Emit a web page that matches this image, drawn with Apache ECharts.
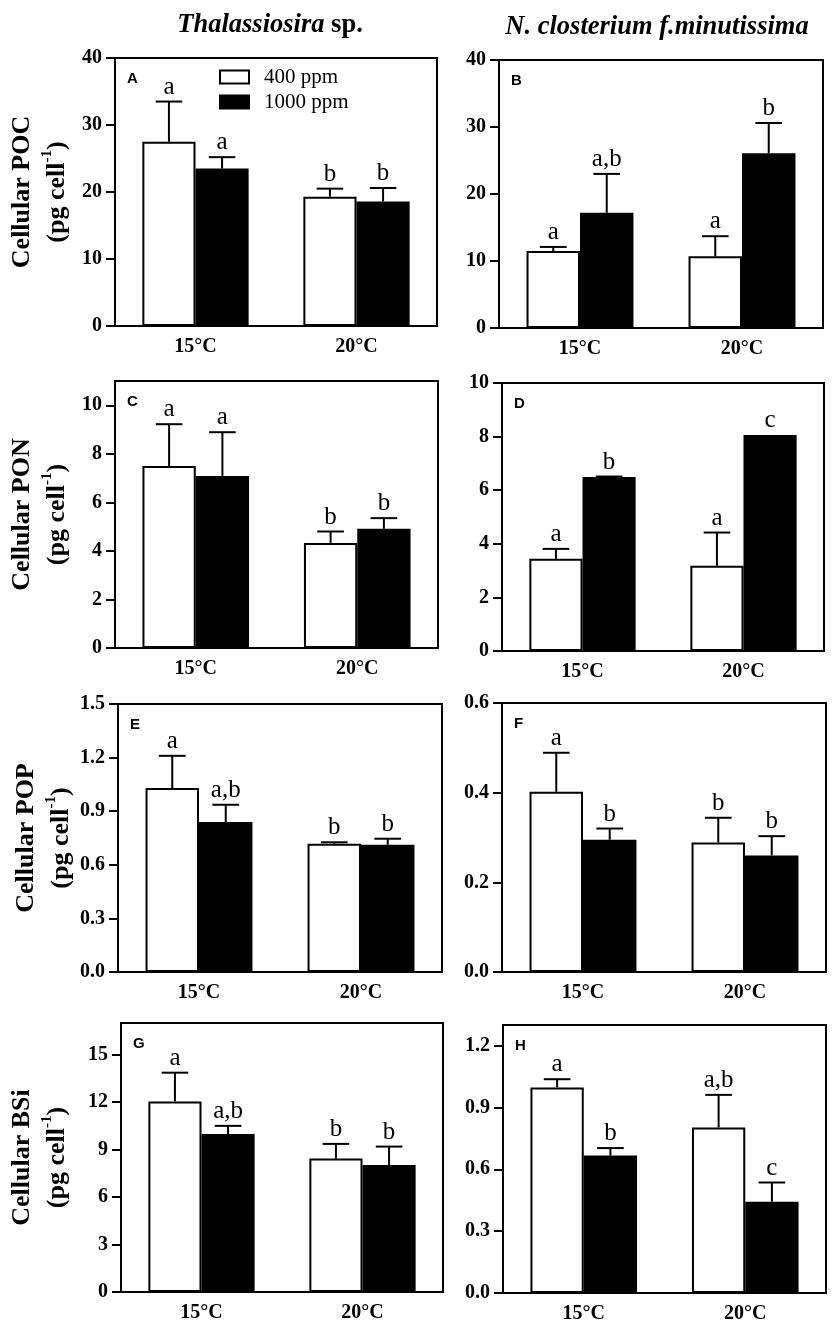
<!DOCTYPE html>
<html>
<head>
<meta charset="utf-8">
<script src="https://cdn.jsdelivr.net/npm/echarts@6/dist/echarts.min.js"></script>
<style>
html,body{margin:0;padding:0;background:#fff;}
#chart{width:839px;height:1339px;}
</style>
</head>
<body>
<div id="chart"></div>
<script>
// ---------- data ----------
const categories = ['15°C', '20°C'];
const seriesNames = ['400 ppm', '1000 ppm'];

// Panel A: Cellular POC, Thalassiosira sp.
const A_400 = [27.5, 19.3];   const A_400_err = [6.0, 1.2];   const A_400_sig = ['a', 'b'];
const A_1000 = [23.5, 18.6];  const A_1000_err = [1.7, 2.0];  const A_1000_sig = ['a', 'b'];
const A_ticks = [0, 10, 20, 30, 40];
// Panel B: Cellular POC, N. closterium
const B_400 = [11.5, 10.7];   const B_400_err = [0.6, 3.0];   const B_400_sig = ['a', 'a'];
const B_1000 = [17.2, 26.1];  const B_1000_err = [5.8, 4.5];  const B_1000_sig = ['a,b', 'b'];
const B_ticks = [0, 10, 20, 30, 40];
// Panel C: Cellular PON, Thalassiosira sp.
const C_400 = [7.5, 4.33];    const C_400_err = [1.72, 0.47]; const C_400_sig = ['a', 'b'];
const C_1000 = [7.09, 4.91];  const C_1000_err = [1.8, 0.44]; const C_1000_sig = ['a', 'b'];
const C_ticks = [0, 2, 4, 6, 8, 10];
// Panel D: Cellular PON, N. closterium
const D_400 = [3.44, 3.18];   const D_400_err = [0.37, 1.24]; const D_400_sig = ['a', 'a'];
const D_1000 = [6.49, 8.06];  const D_1000_err = [0.02, 0];   const D_1000_sig = ['b', 'c'];
const D_ticks = [0, 2, 4, 6, 8, 10];
// Panel E: Cellular POP, Thalassiosira sp.
const E_400 = [1.03, 0.718];  const E_400_err = [0.18, 0.008]; const E_400_sig = ['a', 'b'];
const E_1000 = [0.84, 0.712]; const E_1000_err = [0.096, 0.034]; const E_1000_sig = ['a,b', 'b'];
const E_ticks = [0, 0.3, 0.6, 0.9, 1.2, 1.5];
// Panel F: Cellular POP, N. closterium
const F_400 = [0.402, 0.289]; const F_400_err = [0.087, 0.055]; const F_400_sig = ['a', 'b'];
const F_1000 = [0.295, 0.260]; const F_1000_err = [0.025, 0.043]; const F_1000_sig = ['b', 'b'];
const F_ticks = [0, 0.2, 0.4, 0.6];
// Panel G: Cellular BSi, Thalassiosira sp.
const G_400 = [12.04, 8.43];  const G_400_err = [1.82, 0.93]; const G_400_sig = ['a', 'b'];
const G_1000 = [9.99, 8.03];  const G_1000_err = [0.51, 1.16]; const G_1000_sig = ['a,b', 'b'];
const G_ticks = [0, 3, 6, 9, 12, 15];
// Panel H: Cellular BSi, N. closterium
const H_400 = [0.997, 0.803]; const H_400_err = [0.040, 0.158]; const H_400_sig = ['a', 'a,b'];
const H_1000 = [0.667, 0.443]; const H_1000_err = [0.036, 0.093]; const H_1000_sig = ['b', 'c'];
const H_ticks = [0, 0.3, 0.6, 0.9, 1.2];

const panelLetters = ['A', 'B', 'C', 'D', 'E', 'F', 'G', 'H'];
const yTitles = ['Cellular POC', 'Cellular POC', 'Cellular PON', 'Cellular PON', 'Cellular POP', 'Cellular POP', 'Cellular BSi', 'Cellular BSi'];
const yMax = [40, 40, 11, 10, 1.5, 0.6, 17, 1.3];
const yDecimals = [0, 0, 0, 0, 1, 1, 0, 1];

// ---------- layout ----------
const grids = [
  {left: 115, top: 58,   width: 322, height: 268},
  {left: 499, top: 60,   width: 324, height: 268},
  {left: 115, top: 381,  width: 323, height: 267},
  {left: 502, top: 383,  width: 322, height: 268},
  {left: 118, top: 704,  width: 324, height: 268},
  {left: 502, top: 703,  width: 324, height: 269},
  {left: 121, top: 1023, width: 322, height: 269},
  {left: 503, top: 1025, width: 323, height: 268}
];

const panels = [
  [A_400, A_400_err, A_400_sig, A_1000, A_1000_err, A_1000_sig, A_ticks],
  [B_400, B_400_err, B_400_sig, B_1000, B_1000_err, B_1000_sig, B_ticks],
  [C_400, C_400_err, C_400_sig, C_1000, C_1000_err, C_1000_sig, C_ticks],
  [D_400, D_400_err, D_400_sig, D_1000, D_1000_err, D_1000_sig, D_ticks],
  [E_400, E_400_err, E_400_sig, E_1000, E_1000_err, E_1000_sig, E_ticks],
  [F_400, F_400_err, F_400_sig, F_1000, F_1000_err, F_1000_sig, F_ticks],
  [G_400, G_400_err, G_400_sig, G_1000, G_1000_err, G_1000_sig, G_ticks],
  [H_400, H_400_err, H_400_sig, H_1000, H_1000_err, H_1000_sig, H_ticks]
];

const SERIF = 'Liberation Serif, Times New Roman, serif';
const SANS = 'Liberation Sans, Arial, sans-serif';
const BAR_FRAC = 0.33;

function errRender(sign, sigs) {
  return function (params, api) {
    const ci = api.value(0);
    const v = api.value(1);
    const e = api.value(2);
    const band = api.size([1, 0])[0];
    const dx = sign * band * BAR_FRAC / 2;
    const p0 = api.coord([ci, v]);
    const p1 = api.coord([ci, v + e]);
    const x = p0[0] + dx;
    const half = band * BAR_FRAC / 4;
    const children = [];
    if (e > 0) {
      children.push({type: 'line', shape: {x1: x, y1: p0[1], x2: x, y2: p1[1]},
        style: {stroke: '#000', lineWidth: 2}});
      children.push({type: 'line', shape: {x1: x - half, y1: p1[1], x2: x + half, y2: p1[1]},
        style: {stroke: '#000', lineWidth: 2}});
    }
    children.push({type: 'text', x: x, y: p1[1] - 2,
      style: {text: sigs[params.dataIndex], align: 'center', verticalAlign: 'bottom',
        fontSize: 25, fontFamily: SERIF, fill: '#000'}});
    return {type: 'group', children: children};
  };
}

const option = {
  backgroundColor: '#fff',
  animation: false,
  grid: [], xAxis: [], yAxis: [], series: [],
  legend: {
    left: 214, top: 61, orient: 'vertical',
    itemWidth: 29, itemHeight: 13, itemGap: 3,
    textStyle: {fontFamily: SERIF, fontSize: 21, color: '#000', lineHeight: 22, padding: [0, 0, 0, 10]},
    data: [
      {name: '400 ppm', icon: 'rect', itemStyle: {color: '#fff', borderColor: '#000', borderWidth: 2}},
      {name: '1000 ppm', icon: 'rect', itemStyle: {color: '#000', borderColor: '#000', borderWidth: 2}}
    ],
    selectedMode: false
  },
  graphic: []
};

panels.forEach(function (p, i) {
  const g = grids[i];
  option.grid.push(Object.assign({show: true, borderColor: '#000', borderWidth: 2, backgroundColor: 'transparent'}, g));
  option.xAxis.push({
    type: 'category', gridIndex: i, data: categories,
    axisLine: {lineStyle: {color: '#000', width: 2}},
    axisTick: {alignWithLabel: true, length: 10, lineStyle: {color: '#000', width: 2}},
    axisLabel: {color: '#000', fontFamily: SERIF, fontWeight: 'bold', fontSize: 20, margin: 11}
  });
  const dec = yDecimals[i];
  option.yAxis.push({
    type: 'value', gridIndex: i, min: 0, max: yMax[i],
    splitLine: {show: false},
    axisLine: {show: true, lineStyle: {color: '#000', width: 2}},
    axisTick: {show: true, length: 9, lineStyle: {color: '#000', width: 2}, customValues: p[6]},
    axisLabel: {color: '#000', fontFamily: SERIF, fontWeight: 'bold', fontSize: 20, margin: 13,
      customValues: p[6], formatter: function (v) { return Number(v).toFixed(dec); }}
  });
  option.series.push({
    type: 'bar', name: seriesNames[0], xAxisIndex: i, yAxisIndex: i, data: p[0],
    barWidth: (BAR_FRAC * 100) + '%', barGap: '0%',
    itemStyle: {color: '#fff', borderColor: '#000', borderWidth: 2}
  });
  option.series.push({
    type: 'bar', name: seriesNames[1], xAxisIndex: i, yAxisIndex: i, data: p[3],
    barWidth: (BAR_FRAC * 100) + '%', barGap: '0%',
    itemStyle: {color: '#000', borderColor: '#000', borderWidth: 2}
  });
  option.series.push({
    type: 'custom', name: 'err400', xAxisIndex: i, yAxisIndex: i, z: 5,
    data: p[0].map(function (v, k) { return [k, v, p[1][k]]; }),
    renderItem: errRender(-1, p[2])
  });
  option.series.push({
    type: 'custom', name: 'err1000', xAxisIndex: i, yAxisIndex: i, z: 5,
    data: p[3].map(function (v, k) { return [k, v, p[4][k]]; }),
    renderItem: errRender(1, p[5])
  });
  // panel letter
  option.graphic.push({
    type: 'text', left: g.left + 12, top: g.top + 13,
    style: {text: panelLetters[i], fontFamily: SANS, fontWeight: 'bold', fontSize: 15, fill: '#000'}
  });
  // y axis title (left column)
  if (i % 2 === 0) {
    option.graphic.push({
      type: 'text', x: (i === 4 ? 44 : 40), y: g.top + g.height / 2, rotation: Math.PI / 2,
      style: {
        text: '{t|' + yTitles[i] + '}\n{t|(pg cell}{s|-1}{t|)}',
        align: 'center', verticalAlign: 'middle',
        rich: {
          t: {fontFamily: SERIF, fontWeight: 'bold', fontSize: 26, lineHeight: 35, fill: '#000'},
          s: {fontFamily: SERIF, fontWeight: 'bold', fontSize: 15, lineHeight: 26, verticalAlign: 'top', fill: '#000'}
        }
      }
    });
  }
});

// column titles
option.graphic.push({
  type: 'text', x: 270, y: 25,
  style: {
    text: '{i|Thalassiosira}{n| sp.}', align: 'center', verticalAlign: 'middle',
    rich: {
      i: {fontFamily: SERIF, fontWeight: 'bold', fontStyle: 'italic', fontSize: 26.5, fill: '#000'},
      n: {fontFamily: SERIF, fontWeight: 'bold', fontSize: 26.5, fill: '#000'}
    }
  }
});
option.graphic.push({
  type: 'text', x: 657, y: 27,
  style: {
    text: 'N. closterium f.minutissima', align: 'center', verticalAlign: 'middle',
    fontFamily: SERIF, fontWeight: 'bold', fontStyle: 'italic', fontSize: 26.5, fill: '#000'
  }
});

const chart = echarts.init(document.getElementById('chart'), null, {renderer: 'canvas'});
chart.setOption(option);
</script>
</body>
</html>
